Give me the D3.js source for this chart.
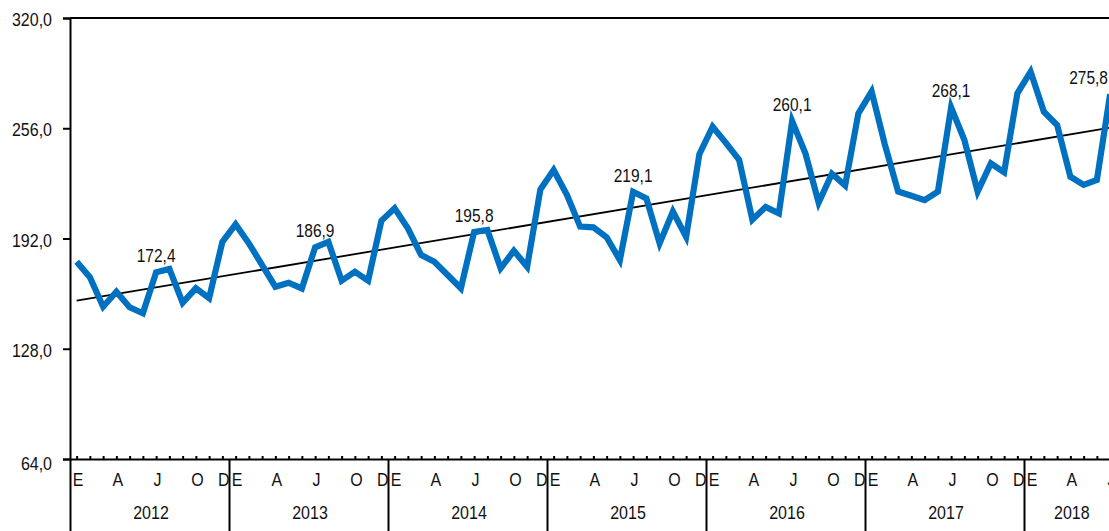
<!DOCTYPE html>
<html>

<head>
    <script type="text/javascript" src="https://cdnjs.cloudflare.com/ajax/libs/d3/7.8.5/d3.min.js"></script>
    <style>
        body {
            margin: 0;
            background: white;
        }

        svg text {
            font-family: "Liberation Sans", Arial, sans-serif;
            fill: #111;
        }

    </style>
</head>

<body>
    <script>
        // monthly values, Jan 2012 .. Jul 2018
        var values = [
            178.5, 169.5, 152.4, 161.1, 152.1, 148.6, 172.4, 174.3, 154.7, 163.1, 157.3, 190.1,
            200.2, 189.2, 176.6, 164.0, 166.3, 163.0, 186.9, 190.1, 167.5, 172.7, 167.5, 202.3,
            209.5, 197.9, 182.4, 178.5, 170.8, 163.1, 195.8, 197.0, 174.7, 184.9, 175.6, 220.5,
            231.8, 217.3, 198.9, 198.5, 192.7, 179.5, 219.1, 215.3, 189.2, 207.6, 193.0, 241.0,
            256.9, 247.5, 237.6, 202.9, 210.3, 206.6, 260.1, 241.5, 212.8, 229.6, 222.8, 264.7,
            277.3, 246.5, 219.3, 216.8, 214.3, 219.2, 268.1, 249.2, 219.2, 235.6, 230.4, 276.3,
            288.8, 265.6, 257.9, 227.9, 223.1, 226.0, 275.8
        ];
        var years = [2012, 2013, 2014, 2015, 2016, 2017, 2018];
        var monthLabels = ["E", "A", "J", "O", "D"];
        var monthLabelIdx = [0, 3, 6, 9, 11];
        var yTicks = [64, 128, 192, 256, 320];
        var labelIdx = [6, 18, 30, 42, 54, 66, 78];   // July values shown
        var trendValues = [155.9, 256.3];             // trend at first and last month
        var trendIdx = [0, 78];

        var width = 1109,
            height = 531,
            left = 70,
            monthW = 13.25;

        var svg = d3.select('body')
            .append('svg')
            .attr('width', width)
            .attr('height', height);

        var x = d3.scaleLinear()
            .domain([0, years.length * 12])
            .range([left, left + years.length * 12 * monthW]);

        var y = d3.scaleLinear()
            .domain([64, 320])
            .range([459, 18]);

        var fmt = function(d) {
            return d3.format('.1f')(d).replace('.', ',');
        };

        // the original text is a bit taller than the font, stretch it around its centre
        function stretch(sel) {
            sel.each(function() {
                var b = this.getBBox();
                var cy = b.y + b.height / 2;
                d3.select(this).attr('transform',
                    'translate(0,' + cy + ') scale(1,1.15) translate(0,' + (-cy) + ')');
            });
        }

        function styleText(sel, size) {
            sel.attr('font-size', size)
                .attr('font-family', '"Liberation Sans", Arial, sans-serif')
                .attr('fill', '#111');
        }

        // y axis
        var yAxis = svg.append('g')
            .attr('transform', 'translate(' + left + ',0)')
            .call(d3.axisLeft(y).tickValues(yTicks).tickSize(7).tickPadding(11).tickFormat(fmt));
        yAxis.selectAll('path, line').attr('stroke', '#000').attr('stroke-width', 2);
        styleText(yAxis.selectAll('text'), 16);
        yAxis.selectAll('text')
            .attr('dy', function(d) { return d === 64 ? '0.62em' : '0.42em'; });
        stretch(yAxis.selectAll('text'));

        // top frame line
        svg.append('line')
            .attr('x1', left).attr('x2', x(years.length * 12))
            .attr('y1', y(320)).attr('y2', y(320))
            .attr('stroke', '#000').attr('stroke-width', 2);

        // x axis: month ticks pointing up
        var xMinor = svg.append('g')
            .attr('transform', 'translate(0,' + y(64) + ')')
            .call(d3.axisTop(x).tickValues(d3.range(0.5, years.length * 12, 1)).tickSize(3).tickSizeOuter(0).tickFormat(''));
        xMinor.selectAll('path, line').attr('stroke', '#000').attr('stroke-width', 2);

        // year separators
        var yearSep = svg.append('g')
            .attr('transform', 'translate(0,' + y(64) + ')')
            .call(d3.axisBottom(x).tickValues(d3.range(0, years.length * 12 + 1, 12)).tickSize(height - y(64)).tickFormat(''));
        yearSep.select('.domain').remove();
        yearSep.selectAll('line').attr('stroke', '#000').attr('stroke-width', 2);

        // month letters
        var monthPos = [];
        years.forEach(function(yr, i) {
            monthLabelIdx.forEach(function(m, j) {
                monthPos.push({ v: i * 12 + m + 0.5, t: monthLabels[j] });
            });
        });
        var mAxis = svg.append('g')
            .attr('transform', 'translate(1,' + y(64) + ')')
            .call(d3.axisBottom(x).tickValues(monthPos.map(function(d) { return d.v; }))
                .tickSize(0).tickPadding(15)
                .tickFormat(function(d, i) { return monthPos[i].t; }));
        mAxis.select('.domain').remove();
        styleText(mAxis.selectAll('text'), 16);
        stretch(mAxis.selectAll('text'));

        // year labels, centred over the months that have data
        var yearMid = years.map(function(yr, i) {
            var first = i * 12,
                last = Math.min(i * 12 + 12, values.length);
            return (first + last) / 2;
        });
        var yrAxis = svg.append('g')
            .attr('transform', 'translate(1,' + y(64) + ')')
            .call(d3.axisBottom(x).tickValues(yearMid)
                .tickSize(0).tickPadding(48)
                .tickFormat(function(d, i) { return years[i]; }));
        yrAxis.select('.domain').remove();
        styleText(yrAxis.selectAll('text'), 16);
        stretch(yrAxis.selectAll('text'));

        // trend line
        var trend = trendIdx.map(function(m, i) { return [m, trendValues[i]]; });
        svg.append('path')
            .datum(trend)
            .attr('fill', 'none')
            .attr('stroke', '#000')
            .attr('stroke-width', 1.8)
            .attr('d', d3.line()
                .x(function(d) { return x(d[0] + 0.5); })
                .y(function(d) { return y(d[1]); }));

        // series line
        svg.append('path')
            .datum(values)
            .attr('fill', 'none')
            .attr('stroke', '#0070c0')
            .attr('stroke-width', 6.2)
            .attr('d', d3.line()
                .x(function(d, i) { return x(i + 0.5); })
                .y(function(d) { return y(d); }));

        // value labels
        var vl = svg.selectAll('.vlabel')
            .data(labelIdx)
            .enter()
            .append('text')
            .attr('class', 'vlabel')
            .attr('text-anchor', function(d) { return x(d + 0.5) + 20 > width ? 'end' : 'middle'; })
            .attr('x', function(d) { return x(d + 0.5) + 20 > width ? width - 1 : x(d + 0.5); })
            .attr('y', function(d) { return y(values[d]) - 11; })
            .text(function(d) { return fmt(values[d]); });
        styleText(vl, 15.5);
        stretch(vl);

    </script>
</body>

</html>
